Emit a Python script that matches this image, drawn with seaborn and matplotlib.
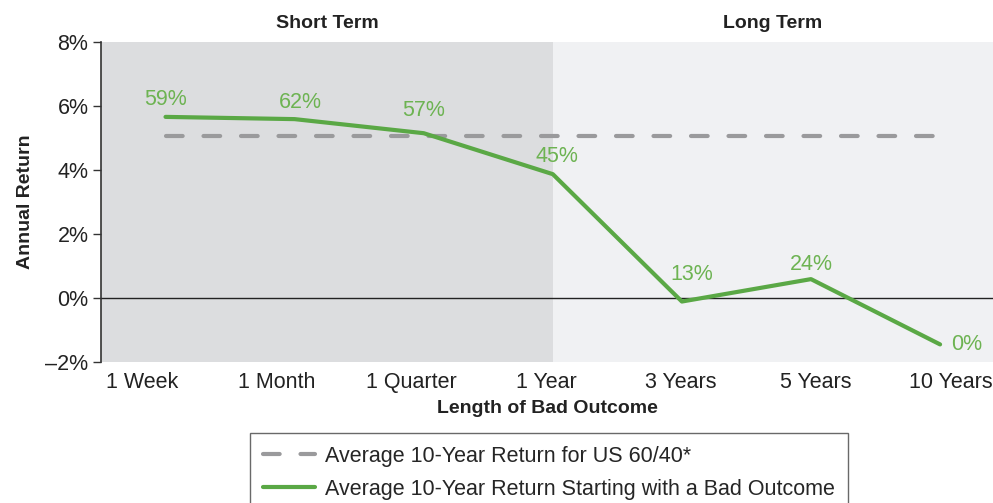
import numpy as np
import matplotlib
matplotlib.use("Agg")
import matplotlib.pyplot as plt
from matplotlib.ticker import FuncFormatter
import seaborn as sns

# ── data ──────────────────────────────────────────────
categories = ["1 Week", "1 Month", "1 Quarter", "1 Year", "3 Years", "5 Years", "10 Years"]
bad_start_return = [5.66, 5.59, 5.15, 3.87, -0.11, 0.59, -1.45]
pct_labels = ["59%", "62%", "57%", "45%", "13%", "24%", "0%"]
avg_6040_return = 5.07

GREEN = "#5aa845"
LABEL_GREEN = "#6db352"
GRAY = "#9a9a9c"
TXT = "#222222"

sns.set_theme(style="white")
plt.rcParams["font.family"] = ["Liberation Sans", "DejaVu Sans"]

fig = plt.figure(figsize=(9.93, 5.03), dpi=100)
ax = fig.add_axes([0.1017, 0.2803, 0.8983, 0.6362])

x = np.arange(len(categories))
n_short = categories.index("1 Year")
x_right = 6.41

# short / long term background bands
ax.axvspan(-0.5, n_short, color="#dcdddf", lw=0, zorder=0)
ax.axvspan(n_short, x_right, color="#f0f1f3", lw=0, zorder=0)
ax.axhline(0, color=TXT, lw=1.0, zorder=1)

# reference dashed line
ax.plot([x[0], x[-1]], [avg_6040_return] * 2, color=GRAY, lw=3,
        dashes=(4, 5), dash_capstyle="round", zorder=2,
        label="Average 10-Year Return for US 60/40*")

sns.lineplot(x=x, y=bad_start_return, color=GREEN, lw=3, ax=ax, zorder=3,
             label="Average 10-Year Return Starting with a Bad Outcome")

# data labels
offsets = [(0, 12.5), (4, 12), (0, 16), (3, 13), (7, 19.5), (0, 10.5), (19, 0)]
for xi, yi, lab, (dx, dy) in zip(x, bad_start_return, pct_labels, offsets):
    ax.annotate(lab, (xi, yi), xytext=(dx, dy), textcoords="offset points",
                ha="center", va="center", color=LABEL_GREEN, fontsize=15.5)

ax.set_xlim(-0.5, x_right)
ax.set_ylim(-2, 8)
ax.set_yticks(np.arange(-2, 9, 2))
ax.yaxis.set_major_formatter(FuncFormatter(lambda v, p: f"{v:.0f}%".replace("-", "\u2013")))
# category labels are spread a little wider than the data points
ax.set_xticks(np.linspace(-0.18, 6.08, len(categories)))
ax.set_xticklabels(categories)
ax.tick_params(axis="y", left=True, length=6, width=1, color="#333333",
               labelsize=15.5, labelcolor=TXT, pad=3)
ax.tick_params(axis="x", bottom=False, labelsize=15.5, labelcolor=TXT, pad=1)

for side in ["top", "right", "bottom"]:
    ax.spines[side].set_visible(False)
ax.spines["left"].set_color("#333333")
ax.spines["left"].set_linewidth(1.2)

ax.set_ylabel("Annual Return", fontsize=14, fontweight="bold", color=TXT, labelpad=8)
ax.set_xlabel("Length of Bad Outcome", fontsize=14, fontweight="bold", color=TXT, labelpad=5)

# section headers
ax.text((-0.5 + n_short) / 2, 1.03, "Short Term", transform=ax.get_xaxis_transform(),
        ha="center", va="bottom", fontsize=14, fontweight="bold", color=TXT)
ax.text((n_short + x_right) / 2, 1.03, "Long Term", transform=ax.get_xaxis_transform(),
        ha="center", va="bottom", fontsize=14, fontweight="bold", color=TXT)

leg = ax.legend(loc="upper center", bbox_to_anchor=(0.553, 0.139), bbox_transform=fig.transFigure,
                frameon=True, fancybox=False, fontsize=15.5, handlelength=2.4,
                handletextpad=0.5, borderpad=0.6, labelspacing=0.55, borderaxespad=0)
leg.get_frame().set_edgecolor("#444444")
leg.get_frame().set_linewidth(1.0)

fig.savefig("out.png", dpi=100, facecolor="white")
